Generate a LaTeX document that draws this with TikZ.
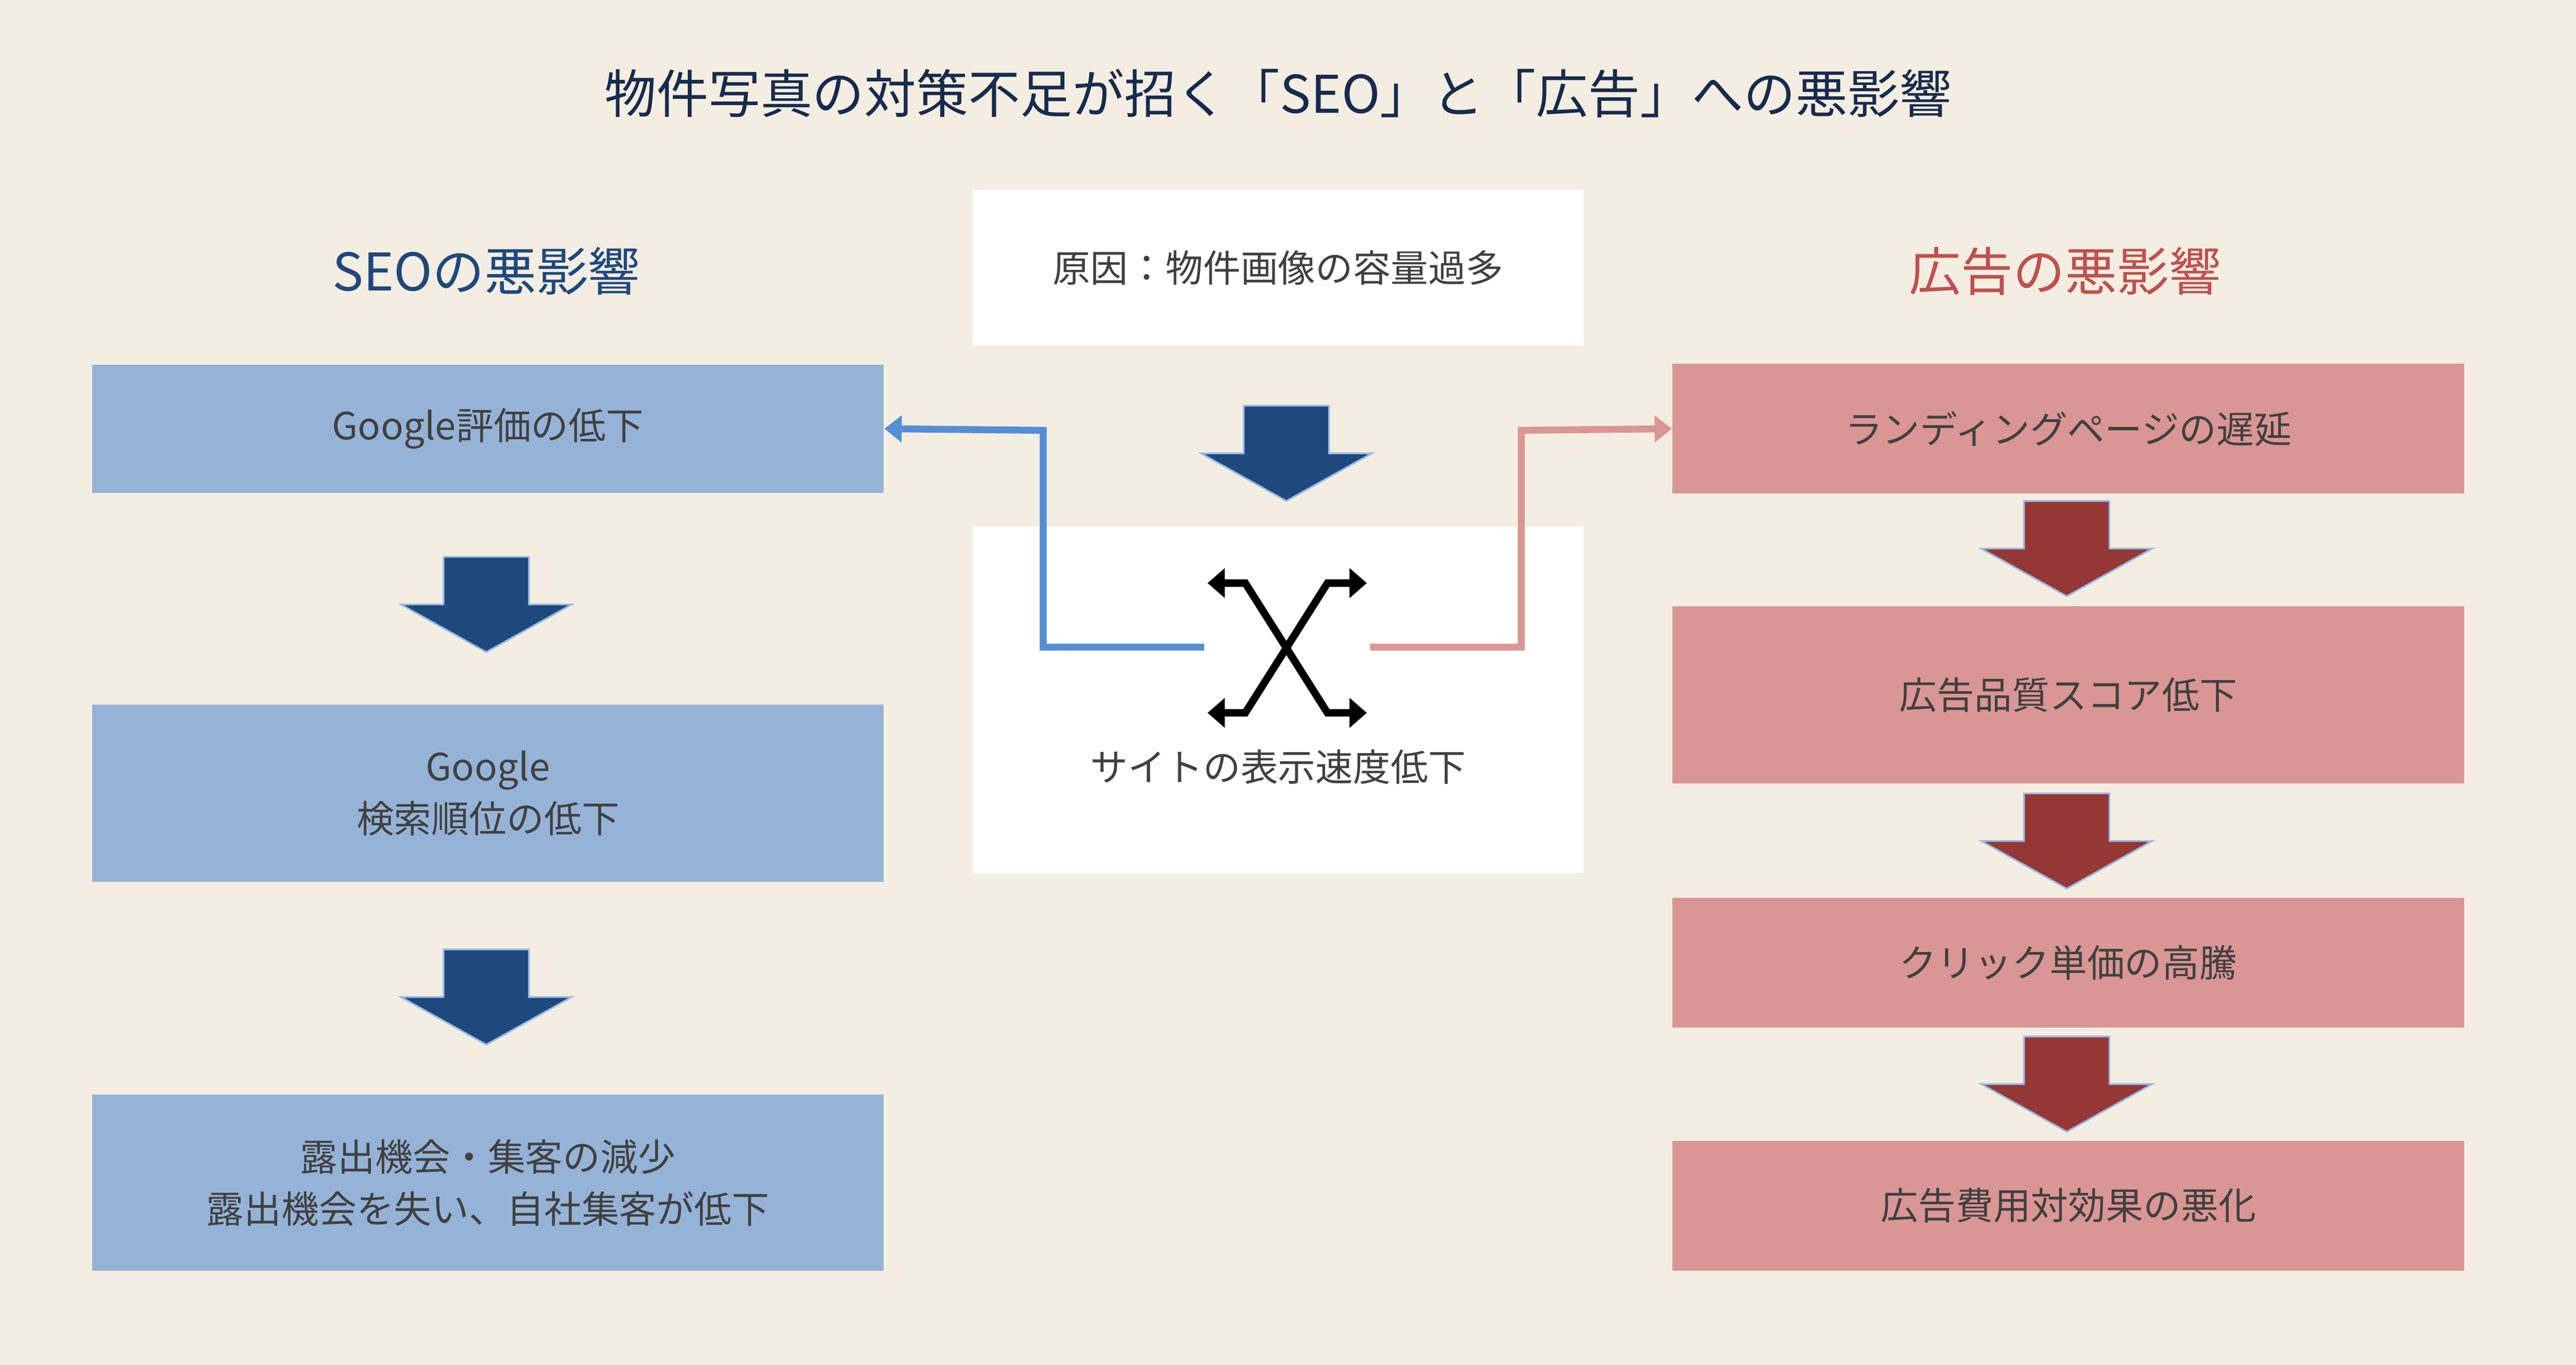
\documentclass[tikz,border=0pt]{standalone}
\usepackage{fontspec}
\setmainfont{Noto Sans CJK JP}
\usetikzlibrary{arrows.meta}
\definecolor{bg}{RGB}{243,237,226}
\definecolor{navy}{RGB}{31,73,125}
\definecolor{ink}{RGB}{23,43,77}
\definecolor{lblue}{RGB}{149,179,215}
\definecolor{cblue}{RGB}{85,142,213}
\definecolor{pinkb}{RGB}{217,150,148}
\definecolor{darkred}{RGB}{149,55,53}
\definecolor{redt}{RGB}{192,80,77}
\definecolor{txt}{RGB}{64,64,64}
\tikzset{
  box/.style={minimum width=9.64cm,inner sep=0pt,align=center,font=\fontsize{13}{18}\selectfont,text=txt},
  seobox/.style={box,fill=lblue},
  adbox/.style={box,fill=pinkb},
  whitebox/.style={fill=white,minimum width=7.44cm,inner sep=0pt,align=center,font=\fontsize{13}{18}\selectfont,text=txt},
  head/.style={font=\fontsize{18}{20}\selectfont},
  pics/blockdown/.style={code={
    \fill[#1,draw=cblue!60,line width=0.6pt] (-26,0) -- (-26,29) -- (-52,29) -- (0,58) -- (52,29) -- (26,29) -- (26,0) -- cycle;}},
}
\begin{document}
\begin{tikzpicture}[x=0.02cm,y=-0.02cm]
  \fill[bg] (0,0) rectangle (1568,831);
  \useasboundingbox (0,0) rectangle (1568,831);

  %title
  \node[head,text=ink] (title) at (778,57) {物件写真の対策不足が招く「SEO」と「広告」への悪影響};
  \node[head,text=navy] (seohead) at (296,165) {SEOの悪影響};
  \node[head,text=redt] (adhead) at (1257,165) {広告の悪影響};

  %left column
  \node[seobox,minimum height=1.56cm] (seo1) at (297,261) {Google評価の低下};
  \node[seobox,minimum height=2.16cm] (seo2) at (297,483) {Google\\検索順位の低下};
  \node[seobox,minimum height=2.14cm] (seo3) at (297,720) {露出機会・集客の減少\\露出機会を失い、自社集客が低下};
  \pic at (296,339) {blockdown=navy};
  \pic at (296,578) {blockdown=navy};

  %center
  \node[whitebox,minimum height=1.9cm] (cause) at (778,163) {原因：物件画像の容量過多};
  \pic at (783,247) {blockdown=navy};
  \node[whitebox,minimum height=4.22cm] (speed) at (778,426) {};
  \node[font=\fontsize{13}{18}\selectfont,text=txt] (speedtxt) at (778,467) {サイトの表示速度低下};
  \coordinate (xl) at (733,394);
  \coordinate (xr) at (834,394);
  \draw[line width=2.6pt,{Triangle[length=6pt,width=10pt]}-{Triangle[length=6pt,width=10pt]}] (735,355) -- (758,355) -- (808,434) -- (832,434);
  \draw[line width=2.6pt,{Triangle[length=6pt,width=10pt]}-{Triangle[length=6pt,width=10pt]}] (832,355) -- (808,355) -- (758,434) -- (735,434);

  %connectors
  \draw[cblue,line width=2.4pt,-{Triangle[length=6pt,width=9pt]}] (xl) -- (635,394) -- (635,262) -- (seo1.east);

  %right column
  \node[adbox,minimum height=1.58cm] (ad1) at (1259,261) {ランディングページの遅延};
  \node[adbox,minimum height=2.16cm] (ad2) at (1259,423) {広告品質スコア低下};
  \node[adbox,minimum height=1.58cm] (ad3) at (1259,586) {クリック単価の高騰};
  \node[adbox,minimum height=1.58cm] (ad4) at (1259,734) {広告費用対効果の悪化};
  \pic at (1258,305) {blockdown=darkred};
  \pic at (1258,483) {blockdown=darkred};
  \pic at (1258,631) {blockdown=darkred};
  \draw[pinkb,line width=2.4pt,-{Triangle[length=6pt,width=9pt]}] (xr) -- (926,394) -- (926,262) -- (ad1.west);
\end{tikzpicture}
\end{document}
